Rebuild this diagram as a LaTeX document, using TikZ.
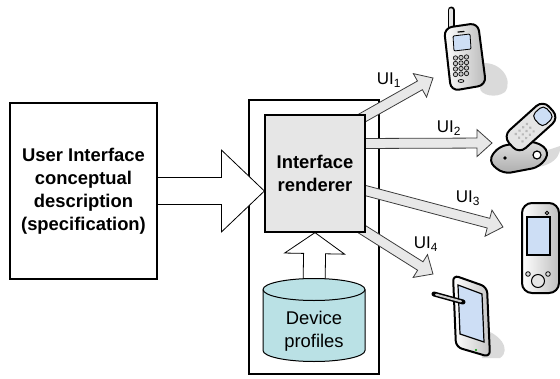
\documentclass[tikz,border=0pt]{standalone}
\usepackage{fontspec}
\setmainfont{Liberation Sans}
\usetikzlibrary{calc,backgrounds}

\definecolor{cylfill}{RGB}{186,225,229}
\definecolor{rendfill}{RGB}{230,230,230}
\definecolor{arrfill}{RGB}{232,232,232}
\definecolor{arrline}{RGB}{60,60,60}
\definecolor{screenblue}{RGB}{205,222,245}
\definecolor{shadowgray}{RGB}{218,218,218}

% block arrow: style, tail, tip, half shaft, half head, head length
\newcommand{\blockarrow}[6]{%
  \coordinate (hb) at ($(#3)!#6!(#2)$);
  \draw[#1] ($(#2)!#4!90:(#3)$) -- ($(hb)!#4!90:(#3)$) -- ($(hb)!#5!90:(#3)$) -- (#3)
    -- ($(hb)!#5!-90:(#3)$) -- ($(hb)!#4!-90:(#3)$) -- ($(#2)!#4!-90:(#3)$);
}

\begin{document}
\begin{tikzpicture}[x=1pt,y=-1pt]
	\tikzstyle{every node}=[align=center,font=\fontsize{18.4}{23}\selectfont]
	\tikzstyle{block}=[draw=black,line width=1.2pt,inner sep=0pt]
	\tikzstyle{title}=[font=\fontsize{18.4}{23}\selectfont\bfseries]
	\tikzstyle{fat}=[draw=black,line width=0.8pt,fill=white]
	\tikzstyle{outarrow}=[draw=arrline,line width=0.8pt,fill=arrfill]
	\tikzstyle{device}=[line width=2pt,line join=round]
	\tikzstyle{ui}=[font=\fontsize{17}{20}\selectfont]

	\useasboundingbox (0,0) rectangle (560,378);

	\node[block,title,minimum width=147,minimum height=176] (spec) at (83.5,191)
		{User Interface\\conceptual\\description\\(specification)};
	\node[block,title,fill=rendfill,minimum width=100,minimum height=117] (rend) at (315,173.5)
		{Interface\\renderer};
	\node (dev) at (314,331) {Device\\profiles};

	\coordinate (rendin) at (rend.west |- spec.east);
	\coordinate (cell) at (433,78);
	\coordinate (flip) at (492,143);
	\coordinate (pda) at (503,227);
	\coordinate (tab) at (433,274);
	\coordinate (o1) at ($(rend.east)+(-8,-53)$);
	\coordinate (o2) at ($(rend.east)+(-8,-30)$);
	\coordinate (o3) at ($(rend.east)+(-8,15)$);
	\coordinate (o4) at ($(rend.east)+(-8,53)$);

	\begin{scope}[on background layer]
		\node[block,minimum width=130,minimum height=274] (frame) at (314,237) {};
		\blockarrow{fat}{spec.east}{rendin}{13.5pt}{41pt}{43pt}
		\blockarrow{outarrow}{o1}{cell}{5pt}{13.5pt}{15pt}
		\blockarrow{outarrow}{o2}{flip}{5pt}{13.5pt}{15pt}
		\blockarrow{outarrow}{o3}{pda}{5pt}{13.5pt}{15pt}
		\blockarrow{outarrow}{o4}{tab}{5pt}{13.5pt}{15pt}
		\blockarrow{fat}{$(dev)+(0,-45)$}{rend.south}{11pt}{30pt}{21pt}
		% database drum
		\draw[line width=1pt,fill=cylfill] ($(dev)+(-51,-41.5)$) -- ($(dev)+(-51,19.5)$)
			arc[start angle=180,end angle=0,x radius=51,y radius=11]
			-- ($(dev)+(51,-41.5)$) arc[start angle=0,end angle=-180,x radius=51,y radius=11] -- cycle;
		\draw[line width=1pt] ($(dev)+(-51,-41.5)$) arc[start angle=180,end angle=0,x radius=51,y radius=11];
	\end{scope}

	\node[ui] (l1) at (389,80) {UI\textsubscript{1}};
	\node[ui] (l2) at (449,128) {UI\textsubscript{2}};
	\node[ui] (l3) at (468,198) {UI\textsubscript{3}};
	\node[ui] (l4) at (426,244) {UI\textsubscript{4}};

	% cell phone
	\fill[shadowgray] (476,64) .. controls (500,58) and (514,80) .. (505,92) .. controls (496,99) and (480,95) .. (480,88) -- cycle;
	\draw[line width=7pt,line cap=round] (451,10) -- (451,30);
	\draw[gray!20,line width=3.5pt,line cap=round] (451,10) -- (451,30);
	\draw[device,rounded corners=8pt,left color=white,right color=gray!55] (444,28) -- (478,23) -- (486,85) -- (451,91) -- cycle;
	\draw[line width=1.2pt,line cap=round] (458,32) -- (464,31.5);
	\draw[line width=0.8pt,fill=screenblue,rounded corners=1pt] (453,36) -- (470,34) -- (471,49) -- (454,51) -- cycle;
	\foreach \r in {0,...,3}
		\foreach \c in {0,1,2}
			\draw[line width=0.6pt,fill=gray!45] ({455.5+5.5*\c},{58+5.5*\r-0.5*\c}) circle (2.2);
	\draw[line width=0.6pt,fill=gray!45] (461,81) ellipse (3 and 1.5);

	% slider phone
	\fill[shadowgray] (522,166) .. controls (540,171) and (562,162) .. (560,146) -- (548,150) -- cycle;
	\draw[device,rounded corners=8pt,top color=gray!25,bottom color=gray!65] (488,161) -- (499,146) -- (536,141) -- (550,152) -- (540,167) -- (503,174) -- cycle;
	\fill (505,158) circle (1.8);
	\draw[line width=1.2pt,fill=white] (537,155) circle (4);
	\begin{scope}[shift={(531,127)},rotate=42]
		\draw[device,rounded corners=9pt,fill=gray!20] (-27,-12) rectangle (27,12);
		\draw[line width=1pt,fill=screenblue,rounded corners=5pt] (8,-8) rectangle (24,8);
		\foreach \r in {0,1,2}
			\foreach \c in {0,...,3}
				\fill[gray!55] ({-16+5*\c},{-5+5*\r}) circle (1.5);
	\end{scope}

	% handheld
	\draw[device,rounded corners=10pt,left color=white,right color=gray!50] (522,203) rectangle (559,293);
	\draw[line width=1.3pt,fill=screenblue] (527,217) rectangle (550,255);
	\draw[line width=0.8pt,fill=gray!30] (547,213) circle (1.8);
	\draw[line width=0.8pt,fill=gray!30] (528,274) circle (2.3);
	\draw[line width=0.8pt,fill=gray!30] (548,274) circle (2.3);
	\draw[line width=1pt,fill=gray!20] (538,281) circle (6.5);

	% tablet and stylus
	\fill[shadowgray] (478,328) .. controls (500,332) and (512,350) .. (500,358) -- (482,358) -- cycle;
	\draw[device,rounded corners=6pt,left color=white,right color=gray!45] (453,275) -- (487,287) -- (490,357) -- (456,347) -- cycle;
	\draw[line width=1.2pt,fill=screenblue] (458,285) -- (482,294) -- (484,342) -- (460,334) -- cycle;
	\fill[green!60!black] (476,350) circle (1.2);
	\draw[line width=5pt,line cap=round] (434,294) -- (463,302);
	\draw[gray!40,line width=2pt,line cap=round] (436,294.6) -- (461,301.4);
\end{tikzpicture}
\end{document}
